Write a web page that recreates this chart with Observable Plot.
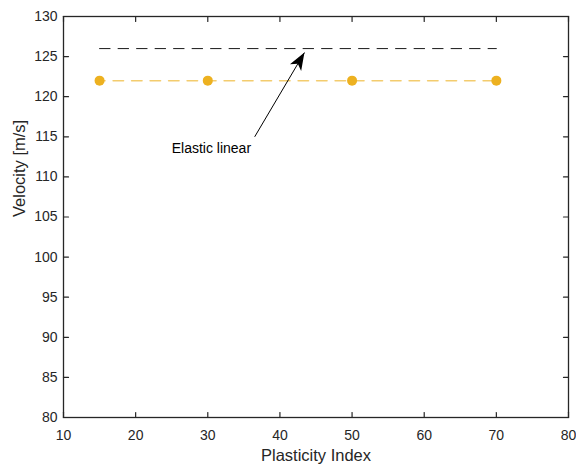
<!DOCTYPE html>
<html><head><meta charset="utf-8">
<script src="https://cdn.jsdelivr.net/npm/d3@7"></script>
<script src="https://cdn.jsdelivr.net/npm/@observablehq/plot@0.6"></script>
<style>
body{margin:0;background:#fff}
</style>
</head><body><div id="chart"></div>
<script>
// Data
const plasticityIndex = [15, 30, 50, 70];
const velocityNonlinear = [122, 122, 122, 122];
const elasticX = [15, 70];
const elasticY = [126, 126];
const xTicks = [10, 20, 30, 40, 50, 60, 70, 80];
const yTicks = [80, 85, 90, 95, 100, 105, 110, 115, 120, 125, 130];
const annotationLabel = ["Elastic linear"];
const annotationTextX = [30.5];
const annotationTextY = [113.5];
const arrowFromX = [36.5];
const arrowFromY = [115.0];
const arrowToX = [43.4];
const arrowToY = [125.5];

const nonlinear = plasticityIndex.map((x, i) => ({x, y: velocityNonlinear[i]}));
const elastic = elasticX.map((x, i) => ({x, y: elasticY[i]}));
const annotation = annotationLabel.map((label, i) => ({
  label, tx: annotationTextX[i], ty: annotationTextY[i],
  x1: arrowFromX[i], y1: arrowFromY[i], x2: arrowToX[i], y2: arrowToY[i]
}));

const ink = "#262626";
const orange = "#EDB120";
const tickShape = {draw(ctx, l) { ctx.moveTo(0, 0); ctx.lineTo(0, -l); }};

const chart = Plot.plot({
  width: 576,
  height: 468,
  marginLeft: 63,
  marginRight: 8,
  marginTop: 16,
  marginBottom: 51,
  style: {fontFamily: "'Liberation Sans', Arial, Helvetica, sans-serif", color: ink, background: "white"},
  x: {domain: [10, 80]},
  y: {domain: [80, 130]},
  marks: [
    // inward ticks on all four sides
    Plot.vector(xTicks, {x: d => d, frameAnchor: "bottom", length: 5, rotate: 0, anchor: "start", shape: tickShape, stroke: ink, strokeWidth: 1.2}),
    Plot.vector(xTicks, {x: d => d, frameAnchor: "top", length: 5, rotate: 180, anchor: "start", shape: tickShape, stroke: ink, strokeWidth: 1.2}),
    Plot.vector(yTicks, {y: d => d, frameAnchor: "left", length: 5, rotate: 90, anchor: "start", shape: tickShape, stroke: ink, strokeWidth: 1.2}),
    Plot.vector(yTicks, {y: d => d, frameAnchor: "right", length: 5, rotate: -90, anchor: "start", shape: tickShape, stroke: ink, strokeWidth: 1.2}),
    Plot.axisX(xTicks, {anchor: "bottom", tickSize: 0, tickPadding: 13, fontSize: 14, label: null, fill: ink}),
    Plot.axisY(yTicks, {anchor: "left", tickSize: 0, tickPadding: 6, fontSize: 14, label: null, fill: ink}),
    Plot.text(["Plasticity Index"], {text: d => d, frameAnchor: "bottom", dy: 43, fontSize: 16.5, fill: ink}),
    Plot.text(["Velocity [m/s]"], {text: d => d, frameAnchor: "left", dx: -44, rotate: -90, fontSize: 16.5, fill: ink}),
    // series
    Plot.line(elastic, {x: "x", y: "y", stroke: "#1a1a1a", strokeWidth: 1, strokeDasharray: "10.5 8"}),
    Plot.line(nonlinear, {x: "x", y: "y", stroke: orange, strokeOpacity: 0.65, strokeWidth: 1.5, strokeDasharray: "10.5 8", strokeDashoffset: 5}),
    Plot.dot(nonlinear, {x: "x", y: "y", r: 5, fill: orange, stroke: "none"}),
    // annotation
    Plot.link(annotation, {
      x1: "x1", y1: "y1", x2: "x2", y2: "y2", stroke: "black", strokeWidth: 1,
      render(index, scales, values, dimensions, context, next) {
        const g = next(index, scales, values, dimensions, context);
        const {x1: X1, y1: Y1, x2: X2, y2: Y2} = values;
        for (const i of index) {
          const dx = X2[i] - X1[i], dy = Y2[i] - Y1[i], len = Math.hypot(dx, dy);
          const ux = dx / len, uy = dy / len, nx = -uy, ny = ux;
          const L = 17.5, W = 6.5, N = 4.5;
          const tx = X2[i], ty = Y2[i];
          const bx = tx - L * ux, by = ty - L * uy;
          const pts = [[tx, ty], [bx + W * nx, by + W * ny], [tx - (L - N) * ux, ty - (L - N) * uy], [bx - W * nx, by - W * ny]];
          d3.select(g).append("path").attr("d", "M" + pts.map(p => p.join(",")).join("L") + "Z").attr("fill", "black").attr("stroke", "none");
        }
        return g;
      }
    }),
    Plot.text(annotation, {x: "tx", y: "ty", text: "label", fontSize: 14, fill: "black"}),
    Plot.frame({stroke: ink, strokeWidth: 1.3})
  ]
});
document.getElementById("chart").appendChild(chart);
</script>
</body></html>
